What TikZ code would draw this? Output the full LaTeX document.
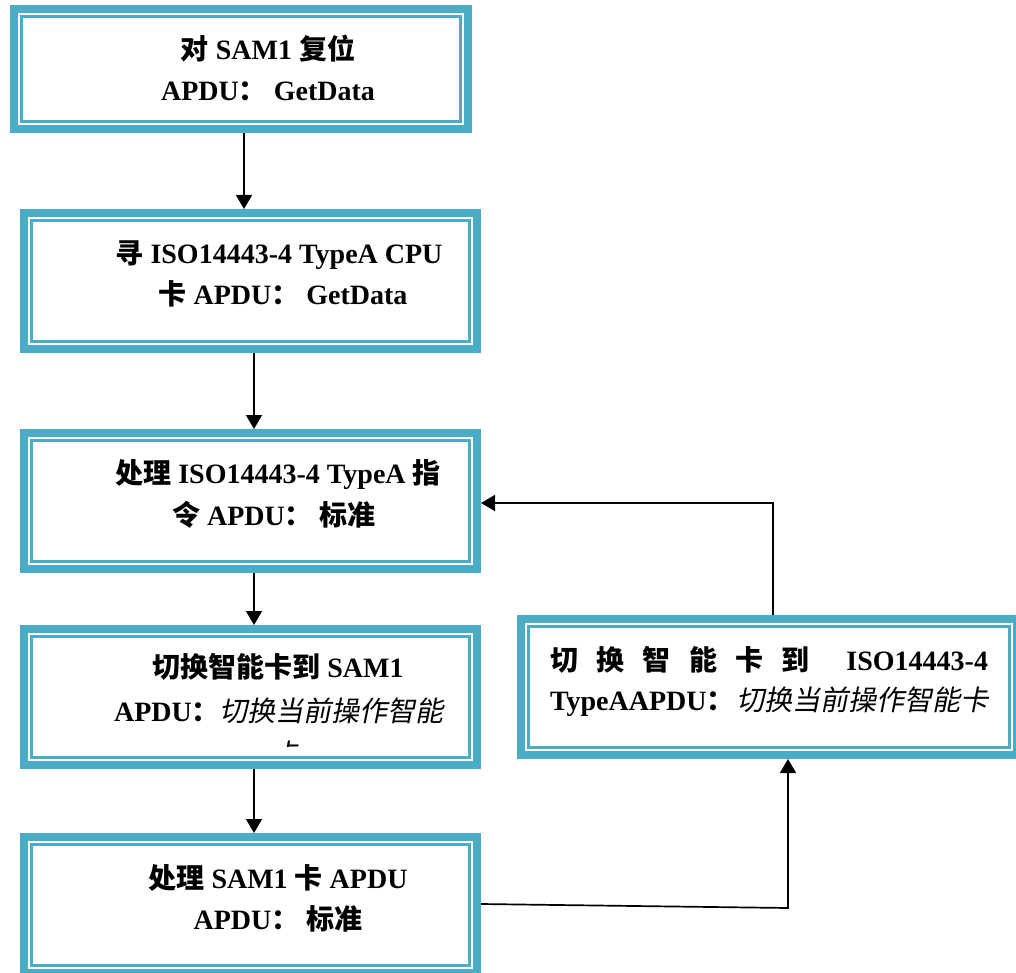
\documentclass[tikz,border=0pt]{standalone}
\usepackage{fontspec}
\setmainfont{Liberation Serif}
\newfontfamily\cjk{Noto Sans CJK SC}
\newfontfamily\cjki[FakeSlant=0.2]{Noto Sans CJK SC}
\usetikzlibrary{arrows.meta}
\definecolor{boxteal}{RGB}{75,172,198}
\newcommand{\C}[1]{{\cjk\bfseries #1}}
\newcommand{\CI}[1]{{\cjki\mdseries #1}}
\tikzset{
  flowbox/.style={draw=boxteal, line width=8pt, fill=white, minimum width=453pt, minimum height=136pt, inner sep=0pt},
  innerline/.style={draw=boxteal, line width=2.5pt},
  txt/.style={font=\fontsize{28}{33}\selectfont\bfseries, inner sep=0pt, anchor=base},
  arr/.style={draw=black, line width=1.7pt, -{Triangle[width=16pt,length=14pt]}}
}
\begin{document}
\begin{tikzpicture}[x=1pt,y=-1pt]
\useasboundingbox (0,0) rectangle (1016,973);
\clip (0,0) rectangle (1016,973);
\fill[white] (0,0) rectangle (1016,973);
% boxes
\node[flowbox, minimum width=454pt, minimum height=120pt] (b1) at (241,69) {};
\node[flowbox] (b2) at (250.5,281) {};
\node[flowbox] (b3) at (250.5,501) {};
\node[flowbox] (b4) at (250.5,697) {};
\node[flowbox] (b5) at (250.5,905) {};
\node[flowbox, minimum width=496pt] (b6) at (769,687) {};
\foreach \n in {b1,b2,b3,b4,b5,b6}
  \draw[innerline] ([shift={(11.5pt,-11.5pt)}]\n.north west) rectangle ([shift={(-11.5pt,11.5pt)}]\n.south east);
% texts
\node[txt] (t1a) at (268,60) {\C{对} SAM1 \C{复位}};
\node[txt] (t1b) at (268,101) {APDU\C{：}\hspace{7pt}GetData};
\node[txt] (t2a) at (279,264) {\C{寻} ISO14443-4 TypeA CPU};
\node[txt] (t2b) at (283,305) {\C{卡} APDU\C{：}\hspace{7pt}GetData};
\node[txt] (t3a) at (278,483) {\C{处理} ISO14443-4 TypeA \C{指}};
\node[txt] (t3b) at (274,525) {\C{令} APDU\C{：}\hspace{7pt}\C{标准}};
\node[txt] (t4a) at (278,677) {\C{切换智能卡到} SAM1};
\node[txt] (t4b) at (279,721) {APDU\C{：}\CI{切换当前操作智能}};
\begin{scope}
  \clip (20,600) rectangle (481,746);
  \node[txt] (t4c) at (285,764) {\CI{卡}};
\end{scope}
\node[txt] (t5a) at (278,888) {\C{处理} SAM1 \C{卡} APDU};
\node[txt] (t5b) at (278,929) {APDU\C{：}\hspace{7pt}\C{标准}};
\node[txt] (t6a) at (769,670) {\hbox to 438pt{\C{切}\hfill\C{换}\hfill\C{智}\hfill\C{能}\hfill\C{卡}\hfill\C{到}\hfill\hfill ISO14443-4}};
\node[txt] (t6b) at (769,710) {\hbox to 438pt{TypeAAPDU\C{：}\hfill\CI{切换当前操作智能卡}}};
% connectors
\coordinate (c1) at (788,908);
\coordinate (c2) at (773,503);
\draw[arr] (244,0 |- b1.south) -- (244,0 |- b2.north);
\draw[arr] (254,0 |- b2.south) -- (254,0 |- b3.north);
\draw[arr] (254,0 |- b3.south) -- (254,0 |- b4.north);
\draw[arr] (254,0 |- b4.south) -- (254,0 |- b5.north);
\draw[arr] (b5.east |- 0,904) -- (c1) -- (c1 |- b6.south);
\draw[arr] (c2 |- b6.north) -- (c2) -- (b3.east |- c2);
\end{tikzpicture}
\end{document}
